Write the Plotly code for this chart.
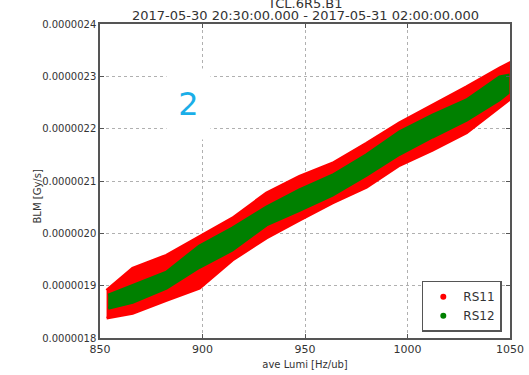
import plotly.graph_objects as go

# ---- data (BLM in Gy/s, lumi in Hz/ub) ----
lumi_rs11 = [853.2, 865.9, 882.4, 898.5, 914.6, 931.2, 947.3, 963.4, 980.0, 996.1, 1012.2, 1028.8, 1044.9, 1049.5]
rs11_upper = [1.891e-6, 1.933e-6, 1.958e-6, 1.993e-6, 2.029e-6, 2.077e-6, 2.109e-6, 2.134e-6, 2.172e-6, 2.211e-6, 2.245e-6, 2.280e-6, 2.316e-6, 2.325e-6]
rs11_lower = [1.838e-6, 1.847e-6, 1.872e-6, 1.895e-6, 1.949e-6, 1.991e-6, 2.025e-6, 2.058e-6, 2.088e-6, 2.130e-6, 2.159e-6, 2.192e-6, 2.241e-6, 2.255e-6]

lumi_rs12 = [854.0, 865.9, 882.4, 898.5, 914.6, 931.2, 947.3, 963.4, 980.0, 996.1, 1012.2, 1028.8, 1044.9, 1049.0]
rs12_upper = [1.882e-6, 1.901e-6, 1.926e-6, 1.976e-6, 2.010e-6, 2.050e-6, 2.083e-6, 2.111e-6, 2.150e-6, 2.194e-6, 2.226e-6, 2.255e-6, 2.299e-6, 2.302e-6]
rs12_lower = [1.857e-6, 1.868e-6, 1.895e-6, 1.935e-6, 1.968e-6, 2.016e-6, 2.044e-6, 2.073e-6, 2.111e-6, 2.151e-6, 2.184e-6, 2.216e-6, 2.255e-6, 2.268e-6]

series = [("RS11", "#ff0000", lumi_rs11, rs11_upper, rs11_lower),
          ("RS12", "#008000", lumi_rs12, rs12_upper, rs12_lower)]

x_ticks = [850, 900, 950, 1000, 1050]
y_ticks = [1.8e-6, 1.9e-6, 2.0e-6, 2.1e-6, 2.2e-6, 2.3e-6, 2.4e-6]
y_tick_labels = ["0.0000018", "0.0000019", "0.0000020", "0.0000021", "0.0000022", "0.0000023", "0.0000024"]

title1 = "TCL.6R5.B1"
title2 = "2017-05-30 20:30:00.000 - 2017-05-31 02:00:00.000"

fig = go.Figure()
for name, color, xs, up, lo in series:
    fig.add_trace(go.Scatter(
        x=xs + xs[::-1], y=up + lo[::-1], mode="lines", fill="toself",
        fillcolor=color, line=dict(color=color, width=3, shape="linear"),
        showlegend=False, hoverinfo="skip"))
for name, color, xs, up, lo in series:
    fig.add_trace(go.Scatter(x=[None], y=[None], mode="markers", name=name,
                             marker=dict(color=color, size=6)))

font = "DejaVu Sans"
fig.update_layout(
    width=529, height=375,
    margin=dict(l=100, r=19, t=24, b=37, autoexpand=False),
    paper_bgcolor="white", plot_bgcolor="white",
    font=dict(family=font, color="#333333"),
    showlegend=True,
    legend=dict(x=0.98, y=0.02, xanchor="right", yanchor="bottom",
                bgcolor="white", bordercolor="#555555", borderwidth=1.5,
                font=dict(size=12, color="#333333"), itemwidth=30,
                tracegroupgap=0),
)
fig.update_xaxes(range=[850, 1050], tickvals=x_ticks, ticktext=[str(v) for v in x_ticks],
                 automargin=False,
                 showgrid=True, gridcolor="#b0b0b0", griddash="dot", gridwidth=1,
                 showline=True, linecolor="#555555", linewidth=1.5, mirror="allticks",
                 ticks="inside", ticklen=4, tickcolor="#555555",
                 tickfont=dict(size=11, color="#333333"), zeroline=False,
                 title=dict(text="ave Lumi [Hz/ub]", font=dict(size=10, color="#333333"), standoff=6))
fig.update_yaxes(range=[1.8e-6, 2.4e-6], tickvals=y_ticks, ticktext=y_tick_labels,
                 automargin=False,
                 showgrid=True, gridcolor="#b0b0b0", griddash="dot", gridwidth=1,
                 showline=True, linecolor="#555555", linewidth=1.5, mirror="allticks",
                 ticks="inside", ticklen=4, tickcolor="#555555",
                 tickfont=dict(size=10, color="#333333"), zeroline=False)

fig.add_annotation(text="BLM [Gy/s]", xref="paper", yref="paper", x=-0.17, y=0.45,
                   textangle=-90, showarrow=False, font=dict(size=10, color="#333333"))
fig.add_annotation(text=title1, xref="paper", yref="paper", x=0.5, y=1.066,
                   yanchor="middle", showarrow=False, font=dict(size=13, color="#333333"))
fig.add_annotation(text=title2, xref="paper", yref="paper", x=0.5, y=1.027,
                   yanchor="middle", showarrow=False, font=dict(size=13, color="#333333"))
fig.add_annotation(text="2", xref="x", yref="y", x=893.0, y=2.247e-6,
                   showarrow=False, bgcolor="white", width=41, height=68,
                   font=dict(size=32, color="#1aaee8"))

fig.write_html("out.html", config={"displayModeBar": False},
               post_script="document.body.style.margin='0';")
